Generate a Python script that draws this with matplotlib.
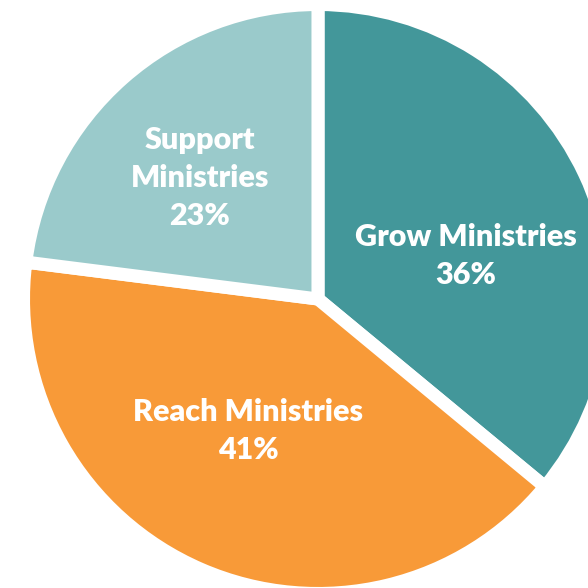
import matplotlib
matplotlib.use('Agg')
import matplotlib.pyplot as plt

labels = ['Grow Ministries', 'Reach Ministries', 'Support\nMinistries']
shares = [36, 41, 23]
colors = ['#43979A', '#F89A38', '#9ACACB']

# label anchor points in pixels of the 588x588 picture
label_px = [(466, 256), (248, 431), (200, 178)]

R_PX = 294.5
CX, CY = 318, 299

fig = plt.figure(figsize=(5.88, 5.88), dpi=100)
ax = fig.add_axes([0, 0, 1, 1])
ax.pie(shares, colors=colors, startangle=90, counterclock=False, radius=1,
       wedgeprops={'edgecolor': 'white', 'linewidth': 9.4})
ax.set_xlim(-CX / R_PX, (588 - CX) / R_PX)
ax.set_ylim(-(588 - CY) / R_PX, CY / R_PX)
ax.set_aspect('equal')
ax.axis('off')

for lab, val, (px, py) in zip(labels, shares, label_px):
  ax.text((px - CX) / R_PX, (CY - py) / R_PX, f'{lab}\n{val}%',
          ha='center', va='center', color='white', fontsize=22,
          fontweight='heavy', family='Lato', linespacing=1.42)

fig.savefig('out.png', dpi=100)
